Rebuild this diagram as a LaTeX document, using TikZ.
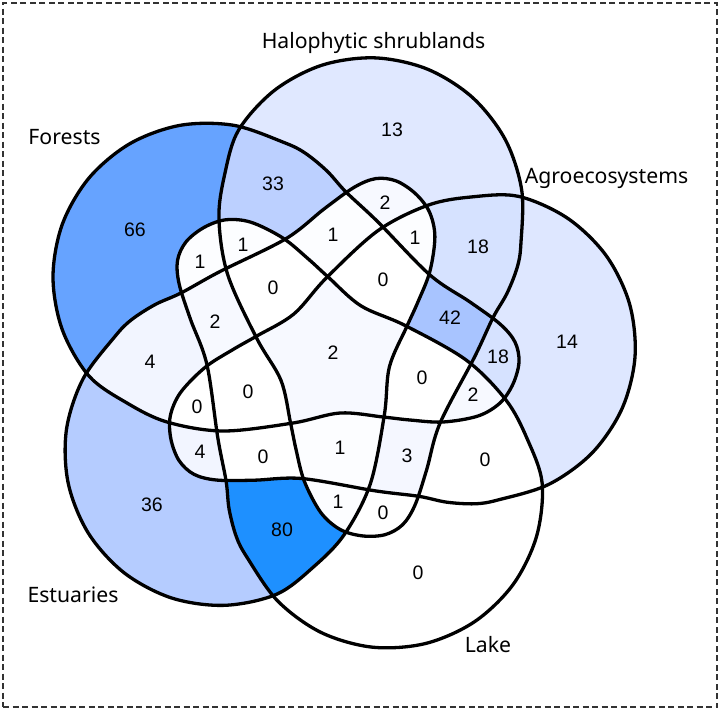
\documentclass[tikz,border=0pt]{standalone}
\usepackage{fontspec}
\newfontfamily\labfont{Noto Sans}
\newfontfamily\numfont{Liberation Sans}
\definecolor{c1}{RGB}{252,253,255}
\definecolor{c2}{RGB}{247,249,255}
\definecolor{c3}{RGB}{245,247,255}
\definecolor{c4}{RGB}{242,245,255}
\definecolor{c13}{RGB}{224,232,255}
\definecolor{c14}{RGB}{222,231,255}
\definecolor{c18}{RGB}{214,226,255}
\definecolor{c33}{RGB}{188,208,255}
\definecolor{c36}{RGB}{181,204,255}
\definecolor{c42}{RGB}{168,196,255}
\definecolor{c66}{RGB}{102,163,255}
\definecolor{c80}{RGB}{30,144,255}
\begin{document}
\begin{tikzpicture}[x=1pt,y=-1pt,
  setline/.style={line width=3.3pt, line join=round},
  lab/.style={font=\labfont\fontsize{21.2}{25}\selectfont, anchor=base, inner sep=0pt},
  num/.style={font=\numfont\fontsize{19.5}{23}\selectfont, inner sep=0pt}]
\useasboundingbox (0,0) rectangle (720,710);
\def\shp{plot[smooth cycle, tension=0.55] coordinates {
 (127,403) (89,376) (62.3,329.7) (53,277) (62.3,224.3) (89,178) (130,143.6)
 (180.3,125.3) (233.7,125.3) (284,142.5) (305,153) (327,171) (346,192) (378,222)
 (430,275) (470,302) (500,324) (515,342) (519,362) (513,384) (500,403)
 (478,416) (443,422) (410,420) (383,417) (340,413) (293,423) (223,431) (167,422)}}
\newcommand\cs[1]{\clip[rotate around={#1:(333,356)}] \shp;}
\newcommand\paint[1]{\fill[#1] (0,0) rectangle (720,710);}
% F=0 H=-72 A=-144 L=-216 E=-288
% singles
\begin{scope}\cs{0}\paint{c66}\end{scope}
\begin{scope}\cs{-72}\paint{c13}\end{scope}
\begin{scope}\cs{-144}\paint{c14}\end{scope}
\begin{scope}\cs{-216}\paint{white}\end{scope}
\begin{scope}\cs{-288}\paint{c36}\end{scope}
% pairs
\begin{scope}\cs{0}\cs{-72}\paint{c33}\end{scope}
\begin{scope}\cs{-288}\cs{0}\paint{c4}\end{scope}
\begin{scope}\cs{-216}\cs{-288}\paint{c80}\end{scope}
\begin{scope}\cs{-144}\cs{-216}\paint{white}\end{scope}
\begin{scope}\cs{-72}\cs{-144}\paint{c18}\end{scope}
\begin{scope}\cs{0}\cs{-216}\paint{c1}\end{scope}
\begin{scope}\cs{-288}\cs{-144}\paint{c4}\end{scope}
\begin{scope}\cs{-216}\cs{-72}\paint{white}\end{scope}
\begin{scope}\cs{-144}\cs{0}\paint{c18}\end{scope}
\begin{scope}\cs{-72}\cs{-288}\paint{c2}\end{scope}
% triples
\begin{scope}\cs{0}\cs{-72}\cs{-216}\paint{c1}\end{scope}
\begin{scope}\cs{-288}\cs{0}\cs{-144}\paint{white}\end{scope}
\begin{scope}\cs{-216}\cs{-288}\cs{-72}\paint{c1}\end{scope}
\begin{scope}\cs{-144}\cs{-216}\cs{0}\paint{c2}\end{scope}
\begin{scope}\cs{-72}\cs{-144}\cs{-288}\paint{c1}\end{scope}
\begin{scope}\cs{0}\cs{-72}\cs{-288}\paint{c1}\end{scope}
\begin{scope}\cs{-288}\cs{0}\cs{-216}\paint{c2}\end{scope}
\begin{scope}\cs{-216}\cs{-288}\cs{-144}\paint{white}\end{scope}
\begin{scope}\cs{-144}\cs{-216}\cs{-72}\paint{c3}\end{scope}
\begin{scope}\cs{-72}\cs{-144}\cs{0}\paint{c42}\end{scope}
% quads
\begin{scope}\cs{0}\cs{-72}\cs{-216}\cs{-288}\paint{white}\end{scope}
\begin{scope}\cs{-288}\cs{0}\cs{-144}\cs{-216}\paint{white}\end{scope}
\begin{scope}\cs{-216}\cs{-288}\cs{-72}\cs{-144}\paint{c1}\end{scope}
\begin{scope}\cs{-144}\cs{-216}\cs{0}\cs{-72}\paint{white}\end{scope}
\begin{scope}\cs{-72}\cs{-144}\cs{-288}\cs{0}\paint{white}\end{scope}
% all
\begin{scope}\cs{0}\cs{-72}\cs{-144}\cs{-216}\cs{-288}\paint{c2}\end{scope}
% outlines
\foreach \a in {0,-72,-144,-216,-288}
  \draw[setline, rotate around={\a:(333,356)}] \shp;
% border
\node[draw=black!80, dashed, line width=1.1pt, dash pattern=on 6pt off 3.5pt,
  minimum width=714pt, minimum height=704pt, inner sep=0pt] (frame) at (360,355) {};
% set labels
\node[lab] (lF) at (64.5,144) {Forests};
\node[lab] (lH) at (373.5,48) {Halophytic shrublands};
\node[lab] (lA) at (606.5,183) {Agroecosystems};
\node[lab] (lL) at (488,652) {Lake};
\node[lab] (lE) at (73,602) {Estuaries};
% counts
\node[num] (n1) at (135,230) {66};
\node[num] (n2) at (273,184) {33};
\node[num] (n3) at (200,262) {1};
\node[num] (n4) at (243,245) {1};
\node[num] (n5) at (333,235) {1};
\node[num] (n6) at (273,288) {0};
\node[num] (n7) at (215,322) {2};
\node[num] (n8) at (150,362) {4};
\node[num] (n9) at (333,353) {2};
\node[num] (n10) at (392,130) {13};
\node[num] (n11) at (385,203) {2};
\node[num] (n12) at (415,238) {1};
\node[num] (n13) at (478,247) {18};
\node[num] (n14) at (383,280) {0};
\node[num] (n15) at (450,318) {42};
\node[num] (n16) at (567,342) {14};
\node[num] (n17) at (498,357) {18};
\node[num] (n18) at (422,378) {0};
\node[num] (n19) at (473,395) {2};
\node[num] (n20) at (407,456) {3};
\node[num] (n21) at (485,460) {0};
\node[num] (n22) at (383,513) {0};
\node[num] (n23) at (418,573) {0};
\node[num] (n24) at (248,392) {0};
\node[num] (n25) at (197,407) {0};
\node[num] (n26) at (200,452) {4};
\node[num] (n27) at (263,457) {0};
\node[num] (n28) at (340,448) {1};
\node[num] (n29) at (152,505) {36};
\node[num] (n30) at (282,530) {80};
\node[num] (n31) at (338,502) {1};
\end{tikzpicture}
\end{document}
